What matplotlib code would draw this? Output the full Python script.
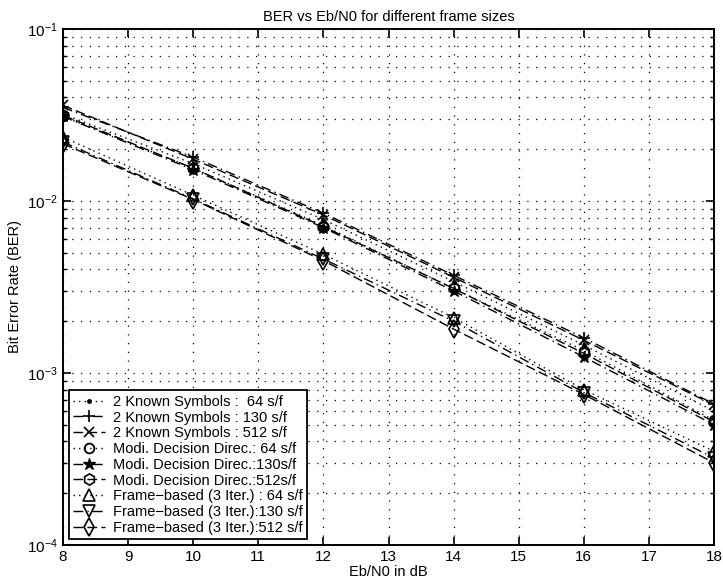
import numpy as np
import matplotlib
matplotlib.use("Agg")
import matplotlib.pyplot as plt

plt.rcParams['font.family'] = ['Liberation Sans', 'DejaVu Sans']

ebn0 = [8, 10, 12, 14, 16, 18]

known_64 = [0.032, 0.0165, 0.0078, 0.0034, 0.00145, 0.00060]
known_130 = [0.035, 0.0180, 0.0085, 0.0037, 0.00160, 0.00066]
known_512 = [0.036, 0.0175, 0.0083, 0.0036, 0.00155, 0.00065]
modi_64 = [0.031, 0.0155, 0.0072, 0.0031, 0.00135, 0.00053]
modi_130 = [0.031, 0.0152, 0.0070, 0.0030, 0.00124, 0.00050]
modi_512 = [0.0315, 0.0155, 0.0071, 0.0031, 0.00130, 0.00052]
frame_64 = [0.0235, 0.0108, 0.0049, 0.0021, 0.00080, 0.00035]
frame_130 = [0.0220, 0.0103, 0.0046, 0.0020, 0.00077, 0.00032]
frame_512 = [0.0215, 0.0102, 0.0045, 0.0018, 0.00075, 0.00030]

labels = ['2 Known Symbols :  64 s/f',
          '2 Known Symbols : 130 s/f',
          '2 Known Symbols : 512 s/f',
          'Modi. Decision Direc.: 64 s/f',
          'Modi. Decision Direc.:130s/f',
          'Modi. Decision Direc.:512s/f',
          'Frame\u2212based (3 Iter.) : 64 s/f',
          'Frame\u2212based (3 Iter.):130 s/f',
          'Frame\u2212based (3 Iter.):512 s/f']

dot = (0, (1, 3))
dashdot = (0, (7, 3, 1, 3))
dash = (0, (7, 3))

fig = plt.figure(figsize=(7.23, 5.87), dpi=100)
ax = fig.add_axes([0.0871, 0.0716, 0.9005, 0.879])

ax.plot(ebn0, known_64, ls=dot, color='k', marker='.', markersize=5, lw=1)
ax.plot(ebn0, known_130, ls=dashdot, color='k', marker='+', markersize=9, mew=1.2, lw=1)
ax.plot(ebn0, known_512, ls=dash, color='k', marker='x', markersize=7, mew=1.2, lw=1)
ax.plot(ebn0, modi_64, ls=dot, color='k', marker='o', markersize=7, mfc='none', mew=1.3, lw=1)
ax.plot(ebn0, modi_130, ls=dashdot, color='k', marker='*', markersize=9, lw=1)
ax.plot(ebn0, modi_512, ls=dash, color='k', marker='h', markersize=8, mfc='none', mew=1.2, lw=1)
ax.plot(ebn0, frame_64, ls=dot, color='k', marker='^', markersize=8, mfc='none', mew=1.2, lw=1)
ax.plot(ebn0, frame_130, ls=dashdot, color='k', marker='v', markersize=8, mfc='none', mew=1.2, lw=1)
ax.plot(ebn0, frame_512, ls=dash, color='k', marker='d', markersize=9, mfc='none', mew=1.2, lw=1)

ax.set_yscale('log')
ax.set_xlim(8, 18)
ax.set_ylim(1e-4, 1e-1)
ax.set_xticks(range(8, 19))
ax.grid(True, which='major', linestyle=(0, (1, 6)), color='k', lw=0.9)
ax.grid(True, which='minor', axis='y', linestyle=(0, (1, 6)), color='k', lw=0.9)
ax.tick_params(which='both', direction='in', top=True, right=True, labelsize=11)
ax.tick_params(which='major', length=6, width=1.2)
ax.tick_params(which='minor', length=3, width=1)
for s in ax.spines.values():
    s.set_linewidth(1.4)

ax.set_title('BER vs Eb/N0 for different frame sizes', fontsize=10.5)
ax.set_xlabel('Eb/N0 in dB', fontsize=10.5, labelpad=1)
ax.set_ylabel('Bit Error Rate (BER)', fontsize=10.5)

leg = ax.legend(labels, loc='lower left', fontsize=10.5, frameon=True, fancybox=False,
                edgecolor='k', framealpha=1, labelspacing=0.12, handlelength=2.2,
                handletextpad=0.5, borderpad=0.3, borderaxespad=0.4)
leg.get_frame().set_linewidth(1.3)

fig.savefig('out.png', dpi=100)
